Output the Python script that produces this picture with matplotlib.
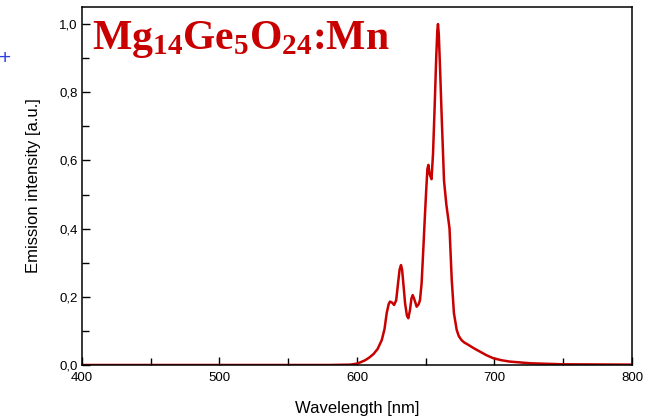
#!/usr/bin/env python3
"""Emission spectrum of Mg14Ge5O24:Mn."""

import matplotlib
matplotlib.use('Agg')
import matplotlib.pyplot as plt
from matplotlib.ticker import MultipleLocator

plt.rcParams.update({
    'font.family': 'Liberation Sans',
    'mathtext.fontset': 'custom',
    'mathtext.rm': 'Liberation Serif',
    'mathtext.bf': 'Liberation Serif:bold',
    'mathtext.it': 'Liberation Serif:italic',
})

# Emission spectrum
wavelength = [400, 500, 580, 595, 600, 602, 606, 609, 612, 615, 618, 620, 621.6, 623,
              624, 625.5, 627, 628.5, 630, 631, 632, 632.8, 633.8, 635, 636.3, 637.3,
              638.5, 639.6, 640.5, 641.5, 643.4, 644.8, 645.8, 647, 648.2, 649.3,
              650.3, 651.2, 651.9, 652.8, 654.2, 655.3, 656.5, 657.6, 658.4, 658.9,
              659.5, 660.5, 661.6, 663.3, 665, 666.5, 667.3, 668.9, 670.5, 672.5, 674,
              676, 678, 681, 685, 689.5, 694, 699, 705, 711, 726, 750, 800]
intensity = [0.0, 0.0, 0.0, 0.001, 0.004, 0.007, 0.014, 0.022, 0.032, 0.047, 0.073,
             0.105, 0.152, 0.178, 0.186, 0.183, 0.176, 0.19, 0.245, 0.28, 0.293, 0.28,
             0.235, 0.18, 0.145, 0.137, 0.16, 0.195, 0.205, 0.195, 0.171, 0.178, 0.19,
             0.24, 0.337, 0.43, 0.51, 0.575, 0.587, 0.56, 0.545, 0.62, 0.76, 0.9, 0.98,
             1.0, 0.97, 0.86, 0.728, 0.54, 0.47, 0.425, 0.4, 0.25, 0.152, 0.103, 0.085,
             0.073, 0.066, 0.059, 0.049, 0.039, 0.029, 0.02, 0.014, 0.01, 0.005, 0.002,
             0.001]

xticks = [400, 500, 600, 700, 800]
yticks = [0.0, 0.2, 0.4, 0.6, 0.8, 1.0]
ytick_labels = ['0,0', '0,2', '0,4', '0,6', '0,8', '1,0']

red = '#C80000'

fig = plt.figure(figsize=(6.56, 4.2), dpi=100)
ax = fig.add_axes([0.125, 0.131, 0.8384, 0.8523])

ax.plot(wavelength, intensity, color=red, linewidth=1.8, solid_joinstyle='round')

ax.set_xlim(400, 800)
ax.set_ylim(0, 1.05)
ax.set_xticks(xticks)
ax.set_yticks(yticks)
ax.set_yticklabels(ytick_labels)
ax.xaxis.set_minor_locator(MultipleLocator(50))
ax.yaxis.set_minor_locator(MultipleLocator(0.1))
ax.tick_params(which='both', direction='in', top=False, right=False, labelsize=9.5)
ax.tick_params(which='major', length=6, width=1)
ax.tick_params(which='minor', length=5, width=1)
ax.tick_params(axis='x', pad=5)
ax.tick_params(axis='y', pad=3)
for s in ax.spines.values():
    s.set_linewidth(1.1)

ax.set_xlabel('Wavelength [nm]', fontsize=12, labelpad=12)
ax.set_ylabel('Emission intensity [a.u.]', fontsize=12, labelpad=13)

ax.text(0.018, 0.967, r'Mg$_\mathbf{14}$Ge$_\mathbf{5}$O$_\mathbf{24}$:Mn',
        transform=ax.transAxes, color=red, fontsize=30, fontfamily='Liberation Serif',
        fontweight='bold', ha='left', va='top')

fig.text(0.008, 0.86, '+', color='#3040E0', fontsize=15, ha='center', va='center')

plt.savefig('out.png', dpi=100)
